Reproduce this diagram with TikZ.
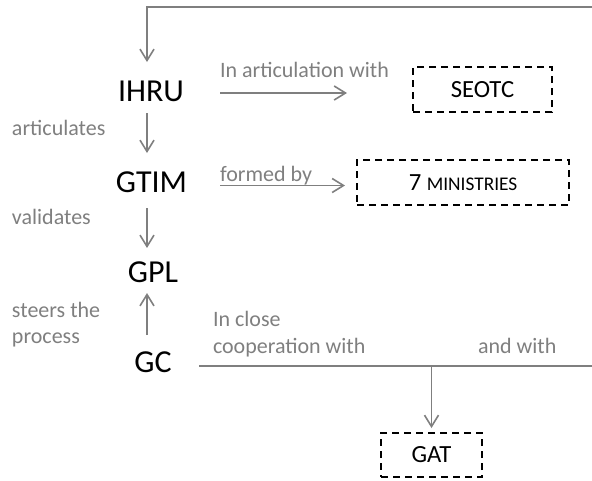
\documentclass[tikz,border=0pt]{standalone}
\usepackage{fontspec}
\setmainfont{Carlito}
\usetikzlibrary{arrows.meta,calc}
\definecolor{tgray}{HTML}{7F7F7F}
\tikzset{
  mainlbl/.style={inner sep=0pt, outer sep=0pt, text=black, font=\fontsize{24}{28}\selectfont},
  graylbl/.style={inner sep=0pt, outer sep=0pt, text=tgray, font=\fontsize{16.5}{20}\selectfont, anchor=base west},
  dbox/.style={draw=black, line width=1.6pt, dash pattern=on 5.5pt off 3.5pt, inner sep=0pt, outer sep=0pt,
               text=black, font=\fontsize{18.5}{22}\selectfont},
  conn/.style={draw=tgray, line width=1.2pt},
  arr/.style={conn, -{Straight Barb[length=8.5pt,width=10.5pt,line width=1.2pt]}},
}
\begin{document}
\begin{tikzpicture}[x=0.75pt,y=-0.75pt]
\useasboundingbox (0,0) rectangle (592,480);

% main nodes
\node[mainlbl] (ihru) at (151,91) {IHRU};
\node[mainlbl] (gtim) at (151.5,182) {GTIM};
\node[mainlbl] (gpl) at (153,272.5) {GPL};
\node[mainlbl] (gc) at (153,362) {GC};

% boxes
\node[dbox, minimum width=104.25pt, minimum height=33.75pt] (seotc) at (482.5,89.5) {SEOTC};
\node[dbox, minimum width=159pt, minimum height=33.75pt] (mins) at (463,182.5)
  {7 {\fontsize{14.5}{17}\selectfont MINISTRIES}};
\node[dbox, minimum width=75.75pt, minimum height=33pt] (gat) at (431.5,455) {GAT};

% gray labels
\node[graylbl] (lart) at (12,135) {articulates};
\node[graylbl] (lval) at (12,224) {validates};
\node[graylbl] (lste) at (12,317) {steers the};
\node[graylbl] (lpro) at (12,343) {process};
\node[graylbl] (linart) at (220,77) {In articulation with};
\node[graylbl] (lform) at (220,181) {formed by};
\node[graylbl] (lclose) at (213,326) {In close};
\node[graylbl] (lcoop) at (213,353) {cooperation with};
\node[graylbl] (land) at (478,353) {and with};

% coordinates
\coordinate (spine) at (147,0);
\coordinate (topR) at (592,7);
\coordinate (lineR) at (592,366);

% connectors
\draw[arr, shorten >=21.75pt] (topR) -| (ihru.center -| spine);
\draw[arr, shorten <=16.5pt, shorten >=21.75pt] (ihru.center -| spine) -- (gtim.center -| spine);
\draw[arr, shorten <=19.5pt, shorten >=18.4pt] (gtim.center -| spine) -- (gpl.center -| spine);
\draw[arr, shorten <=20.25pt, shorten >=15.4pt] (gc.center -| spine) -- (gpl.center -| spine);
\draw[arr] ($(ihru.center)+(69,2)$) -- ($(seotc.west)+(-66,3.5)$);
\draw[arr] ($(gtim.center)+(68.5,3.5)$) -- ($(mins.west)+(-12,3)$);
\draw[conn] ($(gc.center)+(46,4)$) -- (lineR);
\draw[arr, shorten >=3.75pt] (gat.north |- lineR) -- (gat.north);
\end{tikzpicture}
\end{document}
